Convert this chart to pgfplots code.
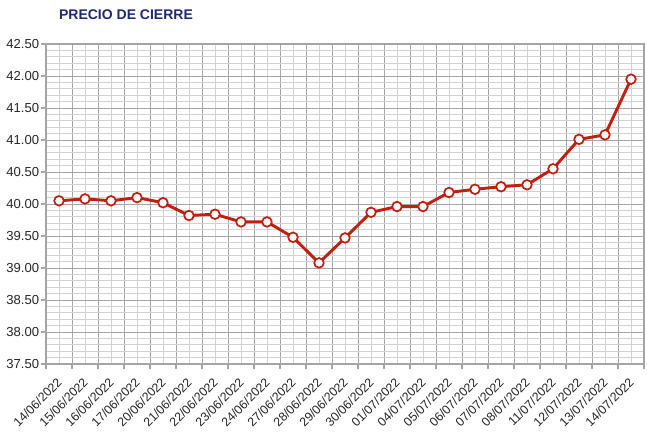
\documentclass[border=0pt]{standalone}
\usepackage{pgfplots}
\pgfplotsset{compat=1.18}
\usepackage{fontspec}
\setmainfont{Liberation Sans}
\definecolor{linered}{RGB}{192,32,16}
\definecolor{titleblue}{RGB}{31,42,110}
\definecolor{majgrid}{RGB}{165,165,165}
\definecolor{mingrid}{RGB}{210,210,210}
\begin{document}
\begin{tikzpicture}
\path[use as bounding box] (0,0) rectangle (485.25pt,333.75pt);
\node[font=\fontsize{10.5}{12}\selectfont\bfseries, text=titleblue] at (94.5pt,323pt) {PRECIO DE CIERRE};
\begin{axis}[
  at={(34.5pt,60.75pt)}, anchor=south west,
  scale only axis, width=448.5pt, height=240pt,
  xmin=-0.5, xmax=22.5, ymin=37.5, ymax=42.5,
  xtick={-0.5,0.5,...,22.5}, xticklabels={},
  minor xtick={0,...,22},
  extra x ticks={0,...,22},
  extra x tick labels={14/06/2022,15/06/2022,16/06/2022,17/06/2022,20/06/2022,21/06/2022,22/06/2022,23/06/2022,24/06/2022,27/06/2022,28/06/2022,29/06/2022,30/06/2022,01/07/2022,04/07/2022,05/07/2022,06/07/2022,07/07/2022,08/07/2022,11/07/2022,12/07/2022,13/07/2022,14/07/2022},
  extra x tick style={grid=none, major tick length=0pt,
    xticklabel style={yshift=-12pt, xshift=0.5pt, rotate=45, anchor=east, inner sep=0pt, font=\fontsize{9.3}{10}\selectfont}},
  ytick={37.5,38,...,42.5},
  minor y tick num=4,
  xmajorgrids, xminorgrids, ymajorgrids, yminorgrids,
  major grid style={majgrid, line width=0.6pt},
  minor grid style={mingrid, line width=0.5pt},
  axis line style={majgrid, line width=0.8pt},
  tick align=outside, major tick length=4pt, minor tick length=0pt,
  tick style={majgrid, line width=0.8pt},
  xtick pos=bottom, ytick pos=left,
  yticklabel style={/pgf/number format/fixed, /pgf/number format/fixed zerofill, /pgf/number format/precision=2, font=\fontsize{9.8}{11}\selectfont, inner sep=1pt},
  /pgf/number format/assume math mode=true,
  tick label style={text=black!85},
  clip=false,
]
\addplot[linered, line width=2.2pt, mark=*, mark size=3.6pt,
  mark options={fill=white, draw=linered, line width=1.3pt}]
coordinates {
(0,40.05) (1,40.08) (2,40.05) (3,40.10) (4,40.02) (5,39.82) (6,39.84) (7,39.72)
(8,39.72) (9,39.48) (10,39.08) (11,39.47) (12,39.87) (13,39.96) (14,39.96)
(15,40.18) (16,40.23) (17,40.27) (18,40.30) (19,40.55) (20,41.01) (21,41.08) (22,41.95)
};
\end{axis}
\end{tikzpicture}
\end{document}
